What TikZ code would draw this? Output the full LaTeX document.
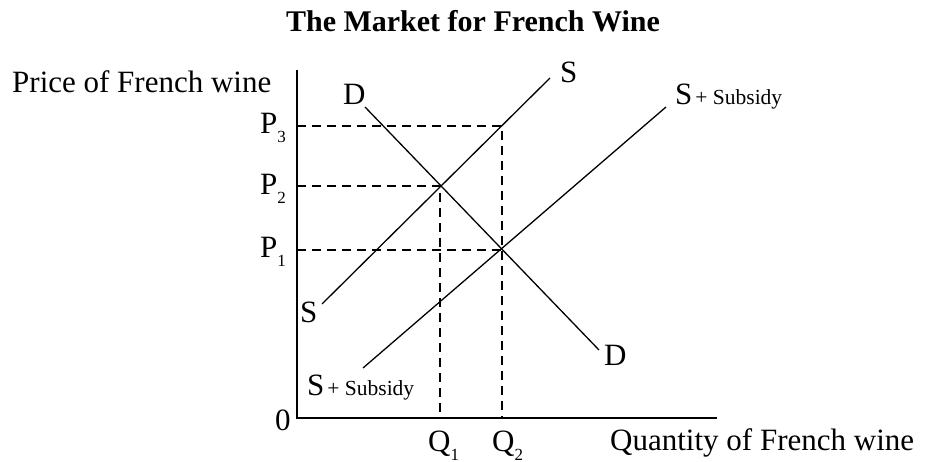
\documentclass[tikz,border=0pt]{standalone}
\usepackage{fontspec}
\setmainfont{Liberation Serif}
\newcommand{\bigtxt}{\fontsize{31}{33}\selectfont}
\newcommand{\titletxt}{\fontsize{30}{32}\selectfont}
\newcommand{\smalltxt}{\fontsize{21.5}{23}\selectfont}
\newcommand{\lowsub}[1]{\raisebox{-9pt}{\fontsize{17}{18}\selectfont #1}}
\tikzset{
  lbl/.style={inner sep=0pt, font=\bigtxt, anchor=base west},
  curve/.style={line width=1.3pt},
  axis/.style={line width=1.5pt},
  guide/.style={line width=2pt, dash pattern=on 9pt off 6pt},
}
\begin{document}
\begin{tikzpicture}[x=1pt,y=-1pt]
\useasboundingbox (0,0) rectangle (926,462);
% axes
\coordinate (O) at (297,418);
\coordinate (Ytop) at (297,70);
\coordinate (Xend) at (717,418);
\draw[axis] (Ytop) -- (O) -- (Xend);
% key points
\coordinate (E3) at (502,126);
\coordinate (E1) at (440,186);
\coordinate (E2) at (502,250);
\coordinate (Y3) at (297,126);
\coordinate (Y2) at (297,186);
\coordinate (Y1) at (297,250);
\coordinate (X1) at (440,418);
\coordinate (X2) at (502,418);
% guides
\draw[guide] (Y3) -- (E3) -- (X2);
\draw[guide] (Y2) -- (E1) -- (X1);
\draw[guide] (Y1) -- (E2);
% curves
\coordinate (Sa) at (322,304);
\coordinate (Sb) at (550,78);
\coordinate (Da) at (365,107);
\coordinate (Db) at (599,350);
\coordinate (Ta) at (363,368);
\coordinate (Tb) at (666,107);
\draw[curve] (Sa) -- (Sb);
\draw[curve] (Da) -- (Db);
\draw[curve] (Ta) -- (Tb);
% labels
\node[lbl, anchor=base, font=\bfseries\titletxt] (title) at (473,32) {The Market for French Wine};
\node[lbl] (ylab) at (12,93) {Price of French wine};
\node[lbl] (xlab) at (610,450) {Quantity of French wine};
\node[lbl] (p3) at (260,134) {P\lowsub{3}};
\node[lbl] (p2) at (260,195) {P\lowsub{2}};
\node[lbl] (p1) at (260,258) {P\lowsub{1}};
\node[lbl] (zero) at (275,430) {0};
\node[lbl] (q1) at (428,451) {Q\lowsub{1}};
\node[lbl] (q2) at (492,451) {Q\lowsub{2}};
\node[lbl] (stop) at (560,83) {S};
\node[lbl] (dtop) at (343,105) {D};
\node[lbl] (sstop) at (675,105) {S\kern3pt{\smalltxt + Subsidy}};
\node[lbl] (sbot) at (300,322) {S};
\node[lbl] (dbot) at (604,365) {D};
\node[lbl] (ssbot) at (307,395) {S\kern3pt{\smalltxt + Subsidy}};
\end{tikzpicture}
\end{document}
